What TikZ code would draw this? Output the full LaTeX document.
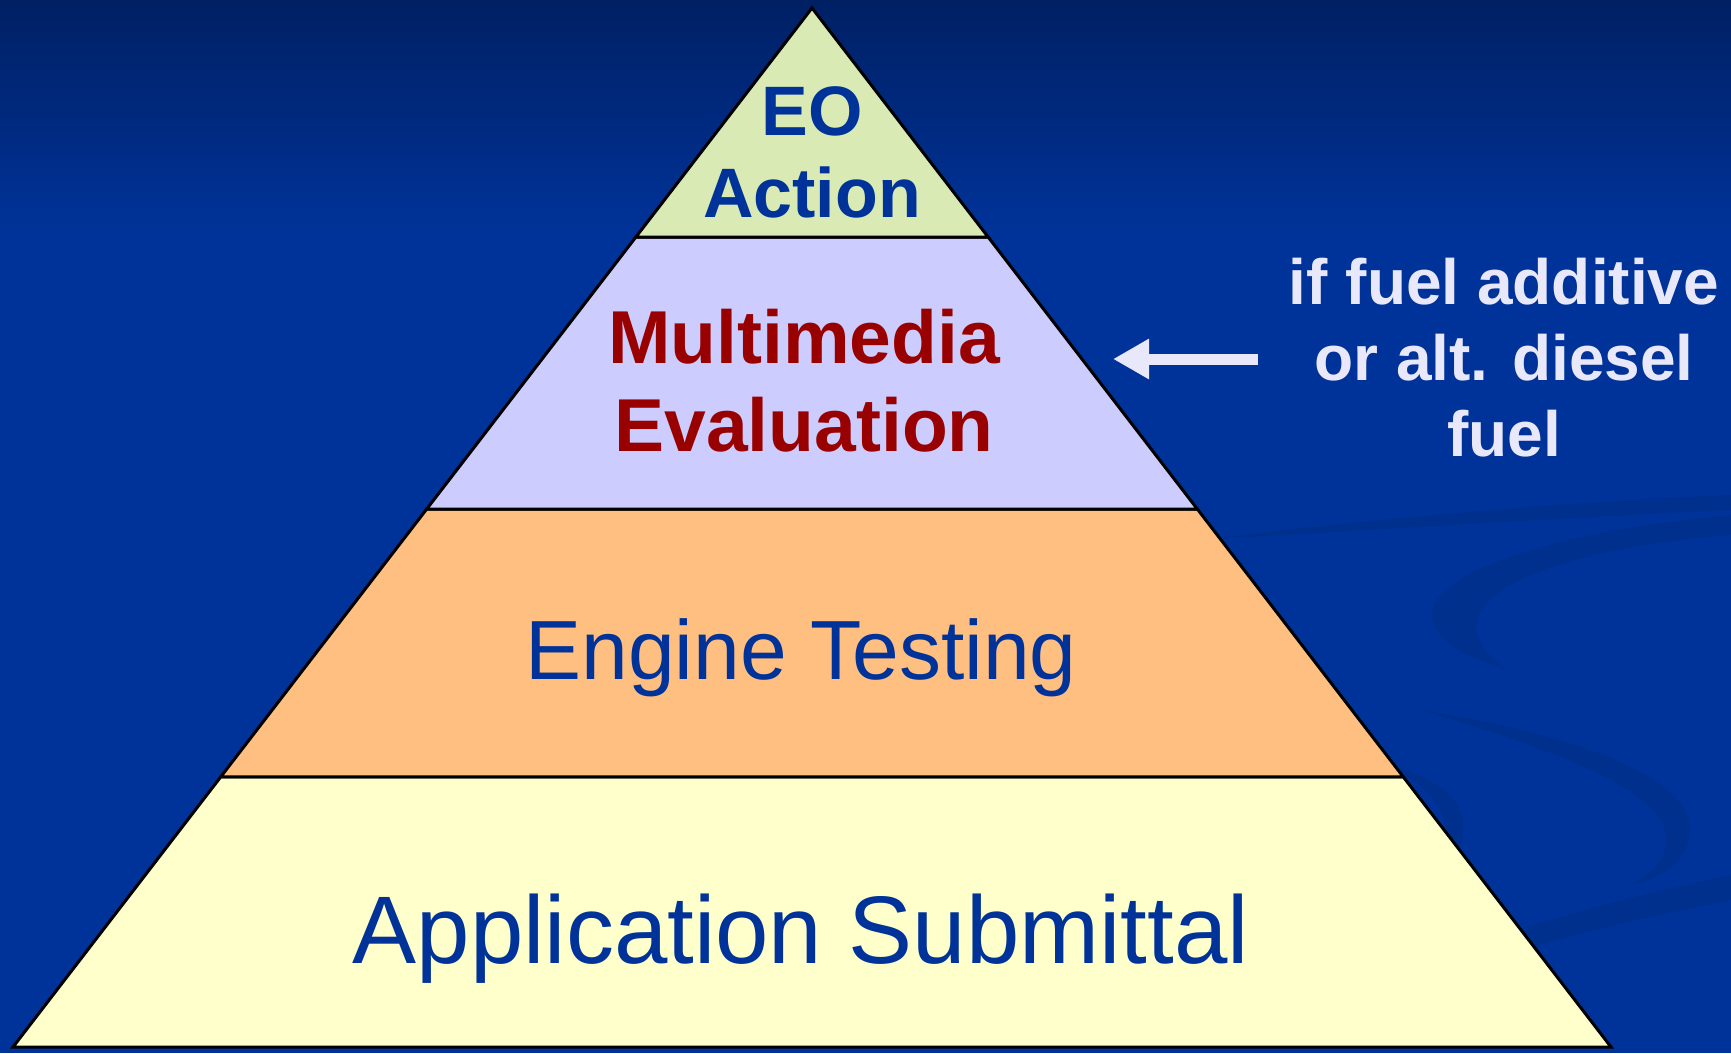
\documentclass[tikz,border=0pt]{standalone}
\usepackage{fontspec}
\setmainfont{Liberation Sans}
\usetikzlibrary{arrows.meta,calc}
\definecolor{bgtop}{HTML}{002064}
\definecolor{bgblue}{HTML}{003399}
\definecolor{swirl}{HTML}{00308E}
\definecolor{txtblue}{HTML}{003399}
\definecolor{txtred}{HTML}{990000}
\definecolor{lvlA}{HTML}{D9EAB5}
\definecolor{lvlB}{HTML}{CCCCFF}
\definecolor{lvlC}{HTML}{FFBF80}
\definecolor{lvlD}{HTML}{FFFFCC}
\definecolor{notecol}{HTML}{E8E8FA}
\tikzset{
  band/.style={draw=black, line width=3pt, line join=miter},
  boldlbl/.style={align=center, font=\bfseries\fontsize{70}{82}\selectfont, text=txtblue, inner sep=0pt},
  redlbl/.style={align=center, font=\bfseries\fontsize{75}{88}\selectfont, text=txtred, inner sep=0pt},
  plainlbl/.style={align=center, text=txtblue, inner sep=0pt},
  notelbl/.style={align=center, font=\bfseries\fontsize{64}{76}\selectfont, text=notecol, inner sep=0pt},
  swirlband/.style={fill=swirl}
}
\begin{document}
\begin{tikzpicture}[x=1pt,y=-1pt]
\useasboundingbox (0,0) rectangle (1731,1053);
\fill[bgblue] (0,0) rectangle (1731,1053);
\begin{scope}[x=1pt,y=1pt]
\shade[top color=bgtop, bottom color=bgblue] (0,-235) rectangle (1731,0);
\end{scope}
% faint background swirls
\fill[swirlband] (1200,540) .. controls (1400,515) and (1600,500) .. (1731,495) -- (1731,510) .. controls (1600,516) and (1400,528) .. (1200,540) -- cycle;
\fill[swirlband] (1731,515) .. controls (1560,530) and (1440,570) .. (1432,612) .. controls (1430,640) and (1470,660) .. (1505,668) .. controls (1480,650) and (1470,630) .. (1480,612) .. controls (1500,575) and (1600,545) .. (1731,535) -- cycle;
\fill[swirlband] (1420,710) .. controls (1550,730) and (1690,770) .. (1690,830) .. controls (1690,860) and (1660,880) .. (1630,885) .. controls (1660,870) and (1670,850) .. (1665,830) .. controls (1650,780) and (1520,740) .. (1420,710) -- cycle;
\fill[swirlband] (1500,935) .. controls (1580,910) and (1660,890) .. (1731,875) -- (1731,900) .. controls (1660,915) and (1580,930) .. (1510,955) -- cycle;
\fill[swirlband] (1390,765) .. controls (1440,780) and (1465,800) .. (1463,830) .. controls (1462,850) and (1455,860) .. (1445,868) .. controls (1450,850) and (1450,830) .. (1440,810) .. controls (1430,790) and (1410,778) .. (1390,765) -- cycle;
% pyramid
\coordinate (A) at (812,8);
\coordinate (BL) at (13,1047);
\coordinate (BR) at (1611,1047);
\coordinate (L1) at ($(A)!0.2204!(BL)$);
\coordinate (R1) at ($(A)!0.2204!(BR)$);
\coordinate (L2) at ($(A)!0.4822!(BL)$);
\coordinate (R2) at ($(A)!0.4822!(BR)$);
\coordinate (L3) at ($(A)!0.7401!(BL)$);
\coordinate (R3) at ($(A)!0.7401!(BR)$);
\filldraw[band, fill=lvlD] (L3) -- (R3) -- (BR) -- (BL) -- cycle;
\filldraw[band, fill=lvlC] (L2) -- (R2) -- (R3) -- (L3) -- cycle;
\filldraw[band, fill=lvlB] (L1) -- (R1) -- (R2) -- (L2) -- cycle;
\filldraw[band, fill=lvlA] (A) -- (R1) -- (L1) -- cycle;
% labels
\node[boldlbl] (eo) at (812,152) {EO\\Action};
\node[redlbl] (mm) at (804,381) {Multimedia\\Evaluation};
\node[plainlbl, font=\fontsize{84}{96}\selectfont] (eng) at (801,658) {Engine Testing};
\node[plainlbl, font=\fontsize{96}{110}\selectfont] (app) at (801,939) {Application Submittal};
\node[notelbl] (note) at (1504,358) {if fuel additive\\or alt. diesel\\fuel};
\coordinate (arrtail) at (1258,359);
\coordinate (arrtip) at (1113,359);
\draw[draw=notecol, line width=11pt, -{Triangle[length=36pt,width=38pt]}] (arrtail) -- (arrtip);
\end{tikzpicture}
\end{document}
